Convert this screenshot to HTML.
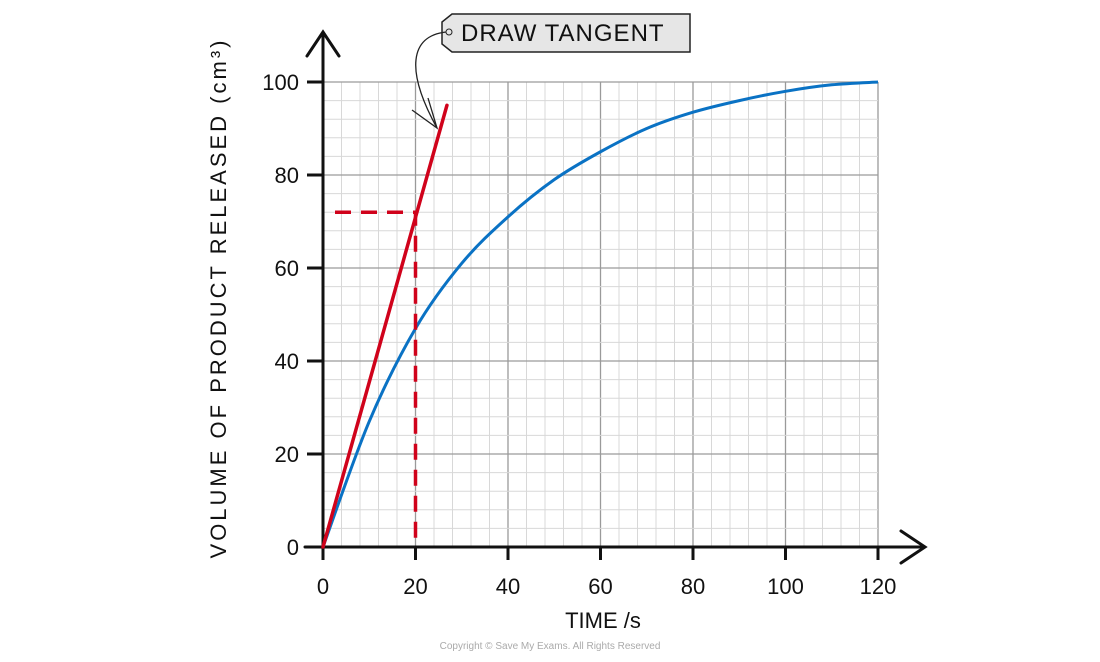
<!DOCTYPE html>
<html><head><meta charset="utf-8"><style>
body{margin:0;background:#fff;width:1100px;height:657px;overflow:hidden}
text{font-family:"Liberation Sans",sans-serif}
</style></head><body>
<svg id="chart" width="1100" height="657">
<g id="grid"></g>
<g id="axes"></g>
<g id="marks"></g>
<g>
<path d="M452,14 L690,14 L690,52 L452,52 L442,44 L442,22 Z" fill="#e6e6e6" stroke="#222" stroke-width="1.5"/>
<circle cx="449" cy="32" r="3" fill="none" stroke="#222" stroke-width="1"/>
<text x="461" y="41" font-size="24" fill="#111" letter-spacing="1">DRAW  TANGENT</text>
<path d="M446,32 C410,36 405,70 437,128" fill="none" stroke="#222" stroke-width="1.3"/>
<path d="M412,110 L437,128 L428,98" fill="none" stroke="#222" stroke-width="1.3"/>
</g>
<text x="603" y="628" font-size="22" text-anchor="middle" fill="#111">TIME /s</text>
<text transform="translate(226,298) rotate(-90)" font-size="22" text-anchor="middle" fill="#111" letter-spacing="3">VOLUME  OF  PRODUCT  RELEASED  (cm³)</text>
<text x="550" y="649" font-size="10" text-anchor="middle" fill="#aaa">Copyright © Save My Exams. All Rights Reserved</text>
</svg>
<script>
const times=[0,10,20,30,40,50,60,70,80,90,100,110,120];
const volumes=[0,27,47,61,71,79,85,90,93.5,96,98,99.4,100];
const tangentStart=[0,0];
const tangentEnd=[26.8,95];
const readT=20, readV=72;
const xTicks=[0,20,40,60,80,100,120];
const yTicks=[0,20,40,60,80,100];
const X=t=>323+t*(555/120);
const Y=v=>547-v*(465/100);
const NS="http://www.w3.org/2000/svg";
function mk(tag,attrs,parent){const e=document.createElementNS(NS,tag);for(const k in attrs)e.setAttribute(k,attrs[k]);parent.appendChild(e);return e;}
const grid=document.getElementById('grid'),axes=document.getElementById('axes'),marks=document.getElementById('marks');
for(let t=0;t<=120;t+=4){const l=mk('line',{x1:X(t),x2:X(t),y1:Y(0),y2:Y(100),stroke:t%20?'#d8d8d8':'#9a9a9a','stroke-width':t%20?1:1.3},grid);

}
for(let v=0;v<=100;v+=4){const l=mk('line',{x1:X(0),x2:X(120),y1:Y(v),y2:Y(v),stroke:'#d8d8d8','stroke-width':1},grid);

}
for(let v=0;v<=100;v+=20){const l=mk('line',{x1:X(0),x2:X(120),y1:Y(v),y2:Y(v),stroke:'#9a9a9a','stroke-width':1.3},grid);

}
const ax=mk('path',{d:`M${X(0)},${Y(0)} L${X(0)},32 M307,56 L${X(0)},32 L339,56`,fill:'none',stroke:'#111','stroke-width':3,'stroke-linecap':'round'},axes);


const ax2=mk('path',{d:`M305,${Y(0)} L925,${Y(0)} M901,531 L925,${Y(0)} L901,563`,fill:'none',stroke:'#111','stroke-width':3,'stroke-linecap':'round'},axes);


xTicks.forEach(t=>{const l=mk('line',{x1:X(t),x2:X(t),y1:Y(0),y2:Y(0)+13,stroke:'#111','stroke-width':3},axes);


const tx=mk('text',{x:X(t),y:Y(0)+47,'font-size':22,'text-anchor':'middle',fill:'#111'},axes);tx.textContent=t;

});
yTicks.forEach(v=>{const l=mk('line',{x1:X(0)-16,x2:X(0),y1:Y(v),y2:Y(v),stroke:'#111','stroke-width':3},axes);


const tx=mk('text',{x:X(0)-24,y:Y(v)+8,'font-size':22,'text-anchor':'end',fill:'#111'},axes);tx.textContent=v;

});
const pts=times.map((t,i)=>[X(t),Y(volumes[i])]);
let d=`M${pts[0][0]},${pts[0][1]}`;
for(let i=0;i<pts.length-1;i++){const p0=pts[Math.max(0,i-1)],p1=pts[i],p2=pts[i+1],p3=pts[Math.min(pts.length-1,i+2)];
d+=` C${p1[0]+(p2[0]-p0[0])/6},${p1[1]+(p2[1]-p0[1])/6} ${p2[0]-(p3[0]-p1[0])/6},${p2[1]-(p3[1]-p1[1])/6} ${p2[0]},${p2[1]}`;}
const curve=mk('path',{d,fill:'none',stroke:'#0a72c4','stroke-width':3},marks);


const dh=mk('path',{d:`M${X(0)+12},${Y(readV)} L${X(readT)},${Y(readV)} L${X(readT)},${Y(0)}`,fill:'none',stroke:'#d0021b','stroke-width':3.5,'stroke-dasharray':'16,10'},marks);


const tg=mk('line',{x1:X(tangentStart[0]),y1:Y(tangentStart[1]),x2:X(tangentEnd[0]),y2:Y(tangentEnd[1]),stroke:'#d0021b','stroke-width':3.5,'stroke-linecap':'round'},marks);


</script>
</body></html>
